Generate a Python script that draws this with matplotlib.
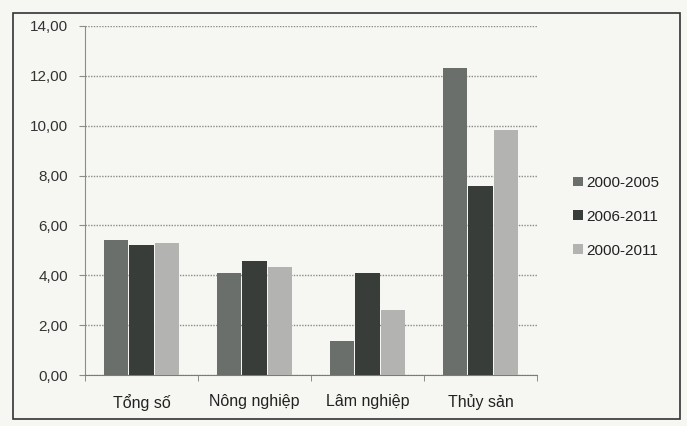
import matplotlib.pyplot as plt
import matplotlib.patches as patches
import numpy as np
from matplotlib.ticker import FuncFormatter

plt.rcParams["font.family"] = ["Liberation Sans", "DejaVu Sans"]

categories = ["Tổng số", "Nông nghiệp", "Lâm nghiệp", "Thủy sản"]
series_names = ["2000-2005", "2006-2011", "2000-2011"]
v_2000_2005 = [5.40, 4.11, 1.38, 12.32]
v_2006_2011 = [5.20, 4.59, 4.08, 7.60]
v_2000_2011 = [5.30, 4.35, 2.61, 9.84]
yticks = [0, 2, 4, 6, 8, 10, 12, 14]

colors = ["#6b6f6c", "#393d3a", "#b3b4b2"]
bg = "#f6f6f3"

fig = plt.figure(figsize=(6.87, 4.26), dpi=100, facecolor=bg)
ax = fig.add_axes([0.1237, 0.1197, 0.658, 0.8193], facecolor=bg)

# khung viền ngoài
frame = patches.Rectangle(
    (13 / 687, 1 - 419 / 426), 667 / 687, 406 / 426,
    transform=fig.transFigure, fill=False, edgecolor="#333333", linewidth=1.2,
)
fig.patches.append(frame)

x = np.arange(len(categories))
w = 0.215
gap = 0.008
for i, (vals, c) in enumerate(zip([v_2000_2005, v_2006_2011, v_2000_2011], colors)):
    ax.bar(x + (i - 1) * (w + gap), vals, width=w, color=c, label=series_names[i],
           linewidth=0, zorder=3)

ax.set_xlim(-0.5, len(categories) - 0.5)
ax.set_ylim(0, 14)
ax.set_yticks(yticks)
ax.yaxis.set_major_formatter(FuncFormatter(lambda v, p: f"{v:.2f}".replace(".", ",")))
ax.grid(axis="y", linestyle=(0, (1, 1)), color="#8a8c8a", linewidth=1.0, zorder=0)

for s in ["top", "right"]:
    ax.spines[s].set_visible(False)
ax.spines["left"].set_linestyle((0, (1, 1)))
ax.spines["left"].set_color("#8a8c8a")
ax.spines["bottom"].set_color("#7a7c7a")

ax.set_xticks(x)
ax.set_xticklabels(categories, fontsize=11.5, color="#222222")
ax.set_xticks(np.arange(-0.5, len(categories)), minor=True)
ax.tick_params(axis="x", which="major", length=0, pad=14)
ax.tick_params(axis="x", which="minor", length=4, color="#7a7c7a")
ax.tick_params(axis="y", length=4, pad=8, color="#8a8c8a", labelsize=11, labelcolor="#333333")

leg = ax.legend(loc="upper left", bbox_to_anchor=(1.05, 0.61), frameon=False,
                fontsize=11, handlelength=0.6, handleheight=0.6, handletextpad=0.25,
                labelspacing=1.3)
for t in leg.get_texts():
    t.set_color("#222222")

fig.savefig("out.png", dpi=100, facecolor=bg)
